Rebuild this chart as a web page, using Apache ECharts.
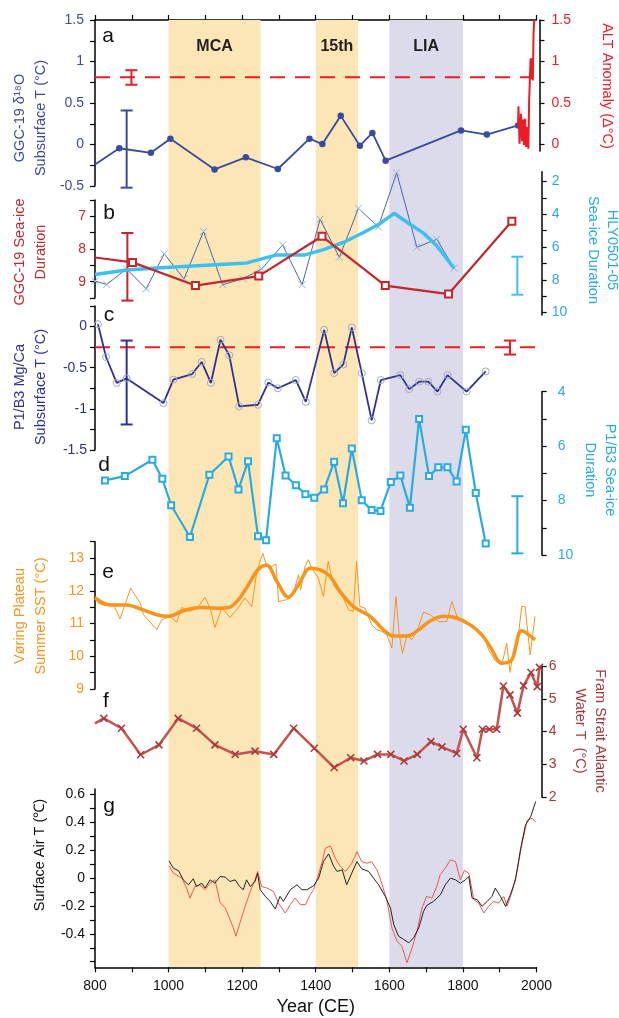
<!DOCTYPE html>
<html>
<head>
<meta charset="utf-8">
<script src="https://cdn.jsdelivr.net/npm/echarts@6/dist/echarts.min.js"></script>
<style>
  html, body { margin: 0; padding: 0; background: #fff; }
  #chart { width: 619px; height: 1018px; }
</style>
</head>
<body>
<div id="chart"></div>
<script>
(function () {
    const FONT = "'Liberation Sans', Arial, sans-serif";

    // shaded periods
    const periods = [['MCA', 1000, 1250, '#fce6b6'], ['15th', 1400, 1515, '#fce6b6'], ['LIA', 1600, 1800, '#dcdbec']];

    // x axis
    const xTicks = [800, 900, 1000, 1100, 1200, 1300, 1400, 1500, 1600, 1700, 1800, 1900, 2000];
    const xLabels = [800, 1000, 1200, 1400, 1600, 1800, 2000];

    // a: GGC-19 d18O subsurface T, ALT anomaly
    const aYears = [800, 866, 952, 1005, 1125, 1210, 1297, 1383, 1418, 1468, 1520, 1554, 1590, 1795, 1865, 1950];
    const aVals = [-0.24, -0.045, -0.10, 0.07, -0.30, -0.155, -0.295, 0.07, 0.005, 0.345, -0.015, 0.14, -0.195, 0.17, 0.12, 0.23];
    const altYears = [1950, 1951, 1954, 1958, 1961, 1964, 1966, 1969, 1972, 1975, 1978, 1980, 1982, 1984, 1987, 1988, 1990, 1992, 1994, 1996];
    const altVals = [0.23, 0.46, 0.01, 0.37, 0.04, 0.30, -0.01, 0.31, -0.03, 0.21, -0.05, 0.53, 0.77, 1.04, 0.79, 1.04, 0.77, 1.34, 1.5, 1.5];
    const aRefLevel = 0.81;
    const aRefSpan = [800, 1985];
    const aErrBlue = [886, -0.52, 0.41];
    const aErrRed = [899, 0.72, 0.895];
    const aLeftTicks = [-0.5, -0.25, 0, 0.25, 0.5, 0.75, 1, 1.25, 1.5];
    const aLeftLabels = [-0.5, 0, 0.5, 1, 1.5];
    const aRightTicks = [0, 0.25, 0.5, 0.75, 1, 1.25, 1.5];
    const aRightLabels = [0, 0.5, 1, 1.5];

    // b: GGC-19 sea-ice duration, HLY0501-05 sea-ice duration
    const bYears = [800, 902, 1073, 1245, 1417, 1589, 1761, 1933];
    const bVals = [8.26, 8.41, 9.12, 8.83, 7.61, 9.12, 9.38, 7.15];
    const hlyYears = [800, 832, 886, 939, 988, 1042, 1095, 1147, 1202, 1253, 1310, 1363, 1412, 1464, 1516, 1570, 1620, 1675, 1729, 1776];
    const hlyVals = [8.08, 8.28, 7.33, 8.55, 6.42, 7.94, 5.05, 8.3, 7.94, 7.33, 5.88, 8.3, 4.3, 6.63, 3.64, 4.77, 1.47, 6.02, 5.52, 7.29];
    const hlySmYears = [800, 886, 1004, 1213, 1258, 1294, 1371, 1421, 1475, 1530, 1575, 1613, 1656, 1693, 1729, 1776];
    const hlySmVals = [7.68, 7.4, 7.23, 6.97, 6.69, 6.48, 6.48, 6.16, 5.72, 5.11, 4.56, 3.94, 4.61, 5.15, 5.92, 7.29];
    const bErrRed = [888, 7.51, 9.58];
    const bErrBlue = [1948, 6.59, 8.91];
    const bLeftTicks = [6.5, 7, 7.5, 8, 8.5, 9, 9.5];
    const bLeftLabels = [7, 8, 9];
    const bRightTicks = [2, 3, 4, 5, 6, 7, 8, 9, 10];
    const bRightLabels = [2, 4, 6, 8, 10];

    // c: P1/B3 Mg/Ca subsurface T
    const cYears = [808, 830, 859, 886, 986, 1013, 1064, 1090, 1115, 1141, 1165, 1192, 1243, 1271, 1297, 1346, 1373, 1423, 1450, 1475, 1498, 1525, 1552, 1577, 1630, 1654, 1681, 1706, 1731, 1758, 1810, 1862];
    const cVals = [0.03, -0.37, -0.685, -0.63, -0.93, -0.645, -0.577, -0.43, -0.685, -0.16, -0.35, -0.97, -0.95, -0.68, -0.75, -0.65, -0.915, -0.04, -0.565, -0.46, -0.01, -0.565, -1.14, -0.65, -0.59, -0.76, -0.67, -0.67, -0.79, -0.59, -0.79, -0.545];
    const cRefLevel = -0.25;
    const cRefSpan = [800, 2014];
    const cErrBlue = [886, -1.19, -0.17];
    const cErrRed = [1928, -0.34, -0.17];
    const cTicks = [-1.5, -1.25, -1, -0.75, -0.5, -0.25, 0, 0.25];
    const cLabels = [-1.5, -1, -0.5, 0];

    // d: P1/B3 sea-ice duration
    const dYears = [827, 881, 956, 983, 1007, 1058, 1111, 1163, 1190, 1216, 1243, 1265, 1294, 1318, 1346, 1372, 1396, 1423, 1450, 1474, 1498, 1525, 1552, 1576, 1604, 1630, 1656, 1681, 1708, 1733, 1758, 1783, 1808, 1835, 1862];
    const dVals = [7.26, 7.10, 6.5, 7.2, 8.17, 9.34, 7.05, 6.38, 7.59, 6.56, 9.31, 9.46, 5.71, 7.08, 7.44, 7.77, 7.9, 7.59, 6.57, 8.1, 6.09, 7.99, 8.35, 8.38, 7.32, 7.08, 8.26, 5.0, 7.1, 6.78, 6.78, 7.3, 5.4, 7.72, 9.58];
    const dErr = [1948, 7.84, 9.94];
    const dTicks = [4, 5, 6, 7, 8, 9, 10];
    const dLabels = [4, 6, 8, 10];

    // e: Voring Plateau summer SST (raw and smoothed)
    const eRawYears = [800, 809, 827, 850, 868, 897, 923, 932, 968, 981, 1004, 1022, 1036, 1058, 1081, 1099, 1113, 1126, 1145, 1167, 1185, 1208, 1226, 1240, 1256, 1267, 1281, 1292, 1299, 1310, 1321, 1330, 1341, 1353, 1359, 1371, 1380, 1389, 1407, 1421, 1434, 1448, 1475, 1489, 1502, 1511, 1520, 1534, 1552, 1566, 1580, 1593, 1607, 1618, 1627, 1636, 1648, 1661, 1675, 1693, 1711, 1734, 1756, 1770, 1784, 1806, 1829, 1856, 1870, 1888, 1906, 1919, 1928, 1937, 1951, 1960, 1969, 1983, 1996];
    const eRawVals = [11.83, 11.62, 11.55, 11.59, 11.14, 12.08, 11.62, 11.27, 10.81, 11.11, 11.22, 11.04, 11.49, 11.37, 11.52, 11.8, 11.47, 10.88, 11.47, 11.19, 11.42, 11.78, 11.52, 12.59, 13.15, 12.75, 12.75, 12.82, 11.67, 11.7, 11.73, 11.78, 11.98, 12.49, 12.03, 12.75, 12.95, 12.69, 12.39, 11.83, 12.9, 12.18, 11.78, 11.42, 11.37, 12.9, 11.52, 11.47, 10.96, 10.81, 10.76, 10.66, 10.25, 11.83, 10.66, 10.09, 10.66, 10.5, 10.76, 11.35, 11.27, 11.06, 11.06, 11.67, 11.22, 11.04, 10.94, 10.66, 10.2, 9.86, 9.74, 10.4, 9.51, 10.15, 10.66, 11.52, 11.52, 10.04, 11.22];
    const eSmYears = [800, 841, 886, 923, 968, 1000, 1040, 1086, 1131, 1163, 1190, 1217, 1244, 1267, 1294, 1326, 1353, 1385, 1412, 1439, 1466, 1502, 1548, 1584, 1611, 1648, 1680, 1711, 1747, 1783, 1820, 1851, 1874, 1906, 1933, 1960, 1996];
    const eSmVals = [11.78, 11.57, 11.57, 11.45, 11.27, 11.22, 11.39, 11.49, 11.47, 11.49, 11.73, 12.18, 12.66, 12.78, 12.29, 11.8, 12.18, 12.69, 12.64, 12.44, 11.98, 11.52, 11.22, 10.81, 10.62, 10.62, 10.81, 11.08, 11.22, 11.17, 10.96, 10.66, 10.3, 9.79, 9.89, 10.78, 10.5];
    const eTicks = [9, 9.5, 10, 10.5, 11, 11.5, 12, 12.5, 13, 13.5];
    const eLabels = [9, 10, 11, 12, 13];

    // f: Fram Strait Atlantic Water T
    const fYears = [800, 824, 872, 924, 974, 1026, 1076, 1126, 1181, 1235, 1286, 1340, 1396, 1450, 1495, 1531, 1568, 1604, 1640, 1676, 1713, 1743, 1783, 1801, 1838, 1853, 1872, 1892, 1910, 1928, 1948, 1965, 1985, 2002, 2008];
    const fVals = [4.25, 4.4, 4.1, 3.29, 3.59, 4.4, 4.1, 3.59, 3.3, 3.4, 3.3, 4.1, 3.49, 2.9, 3.2, 3.1, 3.3, 3.3, 3.1, 3.3, 3.69, 3.53, 3.33, 4.07, 3.2, 4.07, 4.07, 4.07, 5.39, 5.12, 4.56, 5.4, 5.8, 5.37, 5.96];
    const fTicks = [2, 3, 4, 5, 6];
    const fLabels = [2, 3, 4, 5, 6];

    // g: surface air temperature (two reconstructions)
    const gBlackYears = [1001, 1013, 1027, 1040, 1054, 1067, 1076, 1090, 1099, 1113, 1126, 1140, 1154, 1167, 1181, 1193, 1203, 1212, 1222, 1235, 1242, 1249, 1263, 1276, 1290, 1303, 1312, 1331, 1349, 1363, 1376, 1394, 1408, 1421, 1435, 1449, 1458, 1472, 1484, 1498, 1512, 1525, 1544, 1557, 1571, 1589, 1603, 1612, 1625, 1639, 1653, 1666, 1680, 1693, 1702, 1720, 1739, 1752, 1766, 1780, 1793, 1807, 1816, 1825, 1839, 1852, 1866, 1879, 1888, 1902, 1916, 1929, 1943, 1957, 1970, 1984, 1998];
    const gBlackVals = [0.124, 0.071, 0.054, -0.012, -0.048, -0.005, -0.06, -0.036, -0.071, -0.012, -0.036, 0.012, 0.007, -0.024, -0.012, -0.06, -0.083, -0.012, -0.06, -0.024, 0.036, -0.083, -0.131, -0.167, -0.221, -0.131, -0.167, -0.083, -0.048, -0.083, -0.083, -0.055, 0.0, 0.119, 0.174, 0.083, 0.048, 0.06, -0.048, 0.036, 0.119, 0.067, 0.048, 0.0, -0.048, -0.131, -0.214, -0.333, -0.417, -0.44, -0.464, -0.429, -0.357, -0.238, -0.195, -0.167, -0.119, -0.048, 0.0, -0.012, -0.036, -0.012, 0.012, -0.143, -0.155, -0.202, -0.167, -0.131, -0.071, -0.131, -0.202, -0.119, -0.012, 0.214, 0.381, 0.44, 0.55];
    const gRedYears = [1001, 1013, 1036, 1049, 1058, 1072, 1085, 1099, 1113, 1126, 1140, 1154, 1167, 1176, 1183, 1194, 1208, 1222, 1235, 1242, 1253, 1267, 1285, 1299, 1317, 1331, 1344, 1358, 1372, 1385, 1394, 1403, 1417, 1426, 1440, 1453, 1467, 1481, 1498, 1512, 1525, 1539, 1552, 1566, 1575, 1593, 1607, 1621, 1634, 1648, 1662, 1675, 1689, 1701, 1716, 1729, 1738, 1752, 1766, 1780, 1793, 1804, 1816, 1830, 1843, 1857, 1870, 1884, 1897, 1911, 1920, 1934, 1947, 1961, 1975, 1988, 1998];
    const gRedVals = [0.088, 0.036, 0.0, -0.071, -0.143, -0.06, -0.048, -0.083, -0.036, -0.012, -0.174, -0.214, -0.298, -0.357, -0.417, -0.321, -0.202, -0.095, -0.012, 0.048, -0.06, -0.071, -0.095, -0.179, -0.25, -0.19, -0.143, -0.19, -0.19, -0.119, -0.083, -0.012, 0.112, 0.214, 0.231, 0.143, 0.083, 0.048, 0.107, 0.19, 0.119, 0.107, 0.119, 0.06, 0.0, -0.155, -0.357, -0.452, -0.488, -0.607, -0.5, -0.381, -0.214, -0.131, -0.143, -0.06, 0.024, 0.071, 0.131, 0.119, -0.012, 0.055, 0.036, -0.155, -0.179, -0.25, -0.202, -0.167, -0.179, -0.131, -0.202, -0.095, 0.048, 0.25, 0.417, 0.429, 0.405];
    const gTicks = [-0.6, -0.5, -0.4, -0.3, -0.2, -0.1, 0, 0.1, 0.2, 0.3, 0.4, 0.5, 0.6];
    const gLabels = [-0.4, -0.2, 0, 0.2, 0.4, 0.6];

    const col = {
        aBlue: '#3a4a9f', red: '#ed1c24', bRed: '#c1272d', hly: '#4767b2', hlyX: '#9aaed8',
        sky: '#3ec0ee', cBlue: '#2e3192', cCirc: '#a3a7cf', dBlue: '#29abe2',
        orange: '#f7941d', fLine: '#c4524e', fMark: '#a83c3a', fText: '#a23a3a',
        gBlack: '#222222', gRed: '#f0584f'
    };

    let chart = echarts.init(document.getElementById('chart'));

    // px per year 0.3679, left edge at x = 95
    const L = 95, PPY = 0.3679;
    const W2000 = (2000 - 800) * PPY, W2014 = (2014 - 800) * PPY;

    function pts(xs, ys, noFirst) {
        return xs.map(function (x, i) {
            if (noFirst && i === 0) return { value: [x, ys[i]], symbol: 'none' };
            return [x, ys[i]];
        });
    }

    function yAx(grid, pos, min, max, ticks, labels, color, opt) {
        opt = opt || {};
        return {
            type: 'value', gridIndex: grid, position: pos, min: min, max: max,
            inverse: !!opt.inverse, offset: opt.offset || 0,
            splitLine: { show: false },
            axisLine: { show: true, onZero: false, lineStyle: { color: '#000', width: 1.5 } },
            axisTick: { show: true, length: 5, customValues: ticks, lineStyle: { color: '#000', width: 1.2 } },
            axisLabel: { show: true, customValues: labels, color: color, fontSize: 14, fontFamily: FONT, margin: opt.margin || 10 }
        };
    }

    function xHidden(grid, max) {
        return { type: 'value', gridIndex: grid, min: 800, max: max, show: false };
    }

    function errBar(params, api) {
        let p1 = api.coord([api.value(0), api.value(1)]);
        let p2 = api.coord([api.value(0), api.value(2)]);
        let w = 6;
        let st = { stroke: api.visual('color'), lineWidth: 2 };
        return {
            type: 'group', children: [
                { type: 'line', shape: { x1: p1[0], y1: p1[1], x2: p2[0], y2: p2[1] }, style: st },
                { type: 'line', shape: { x1: p1[0] - w, y1: p1[1], x2: p1[0] + w, y2: p1[1] }, style: st },
                { type: 'line', shape: { x1: p2[0] - w, y1: p2[1], x2: p2[0] + w, y2: p2[1] }, style: st }
            ]
        };
    }

    function errSeries(ax, data, color) {
        return {
            type: 'custom', xAxisIndex: ax, yAxisIndex: ax, renderItem: errBar,
            itemStyle: { color: color }, data: [data], z: 4, silent: true
        };
    }

    const xMark = 'path://M0,0L10,10M10,0L0,10';

    // grids: 0 bands, 1 a, 2 a-right, 3 b-left, 4 b-right, 5 c, 6 d, 7 e, 8 f, 9 g
    let grids = [
        { left: L, top: 20, width: W2000, height: 947 },
        { left: L, top: 20, width: W2000, height: 166 },
        { left: L, top: 20, width: W2000, height: 131 },
        { left: L, top: 200, width: W2014, height: 98 },
        { left: L, top: 171.7, width: W2014, height: 143.3 },
        { left: L, top: 306, width: W2014, height: 144 },
        { left: L, top: 391.7, width: W2014, height: 163.3 },
        { left: L, top: 541.7, width: W2014, height: 147.3 },
        { left: L, top: 666, width: W2014, height: 131 },
        { left: L, top: 789, width: W2000, height: 178.3 }
    ];

    let xAxes = [
        xHidden(0, 2000),
        {
            type: 'value', gridIndex: 1, position: 'top', min: 800, max: 2000,
            splitLine: { show: false },
            axisLine: { show: true, onZero: false, lineStyle: { color: '#000', width: 1.5 } },
            axisTick: { show: true, length: 5, customValues: xTicks, lineStyle: { color: '#000', width: 1.2 } },
            axisLabel: { show: false }
        },
        xHidden(2, 2000),
        xHidden(3, 2014),
        xHidden(4, 2014),
        xHidden(5, 2014),
        xHidden(6, 2014),
        xHidden(7, 2014),
        xHidden(8, 2014),
        {
            type: 'value', gridIndex: 9, position: 'bottom', min: 800, max: 2000,
            splitLine: { show: false },
            axisLine: { show: true, onZero: false, lineStyle: { color: '#000', width: 1.5 } },
            axisTick: { show: true, length: 5, customValues: xTicks, lineStyle: { color: '#000', width: 1.2 } },
            axisLabel: {
                customValues: xLabels, color: '#111', fontSize: 14, fontFamily: FONT, margin: 12,
                formatter: function (v) { return String(v); }
            },
            name: 'Year (CE)', nameLocation: 'middle', nameGap: 31,
            nameTextStyle: { fontSize: 18, fontFamily: FONT, color: '#111' }
        }
    ];

    let yAxes = [
        { type: 'value', gridIndex: 0, min: 0, max: 1, show: false },
        yAx(1, 'left', -0.5, 1.5, aLeftTicks, aLeftLabels, col.aBlue, { margin: 11 }),
        yAx(2, 'right', -0.08, 1.5, aRightTicks, aRightLabels, col.red, { margin: 12, offset: 3 }),
        yAx(3, 'left', 6.5, 9.5, bLeftTicks, bLeftLabels, col.bRed, { inverse: true, margin: 9 }),
        yAx(4, 'right', 1.4, 10.15, bRightTicks, bRightLabels, col.dBlue, { inverse: true, margin: 10 }),
        yAx(5, 'left', -1.5, 0.25, cTicks, cLabels, col.cBlue, { margin: 8 }),
        yAx(6, 'right', 4, 10, dTicks, dLabels, col.dBlue, { inverse: true, margin: 16 }),
        yAx(7, 'left', 9, 13.5, eTicks, eLabels, col.orange, { margin: 11 }),
        yAx(8, 'right', 2, 6, fTicks, fLabels, col.fText, { margin: 7 }),
        yAx(9, 'left', -0.64, 0.64, gTicks, gLabels, '#111', { margin: 10 })
    ];

    let series = [
        {
            type: 'line', xAxisIndex: 0, yAxisIndex: 0, data: [], silent: true,
            markArea: {
                silent: true,
                label: { show: true, position: 'insideTop', distance: 19, fontSize: 16, fontWeight: 'bold', fontFamily: FONT, color: '#231f20' },
                data: periods.map(function (p) {
                    return [{ name: p[0], xAxis: p[1], itemStyle: { color: p[3] } }, { xAxis: p[2] }];
                })
            }
        },
        // a
        {
            type: 'line', xAxisIndex: 1, yAxisIndex: 1, data: [[aRefSpan[0], aRefLevel], [aRefSpan[1], aRefLevel]],
            symbol: 'none', lineStyle: { color: col.red, width: 2, type: [15, 10] }, z: 3
        },
        {
            type: 'line', xAxisIndex: 1, yAxisIndex: 1, data: pts(aYears, aVals, true),
            symbol: 'circle', symbolSize: 6.5, itemStyle: { color: col.aBlue },
            lineStyle: { color: col.aBlue, width: 1.8 }, z: 5
        },
        {
            type: 'line', xAxisIndex: 1, yAxisIndex: 1, data: pts(altYears, altVals),
            symbol: 'none', lineStyle: { color: col.red, width: 2 }, z: 6
        },
        errSeries(1, aErrBlue, col.aBlue),
        errSeries(1, aErrRed, col.red),
        // b
        {
            type: 'line', xAxisIndex: 4, yAxisIndex: 4, data: pts(hlyYears, hlyVals),
            symbol: xMark, symbolSize: 7,
            itemStyle: { color: 'transparent', borderColor: col.hlyX, borderWidth: 1 },
            lineStyle: { color: col.hly, width: 1 }, z: 3
        },
        {
            type: 'line', xAxisIndex: 4, yAxisIndex: 4, data: pts(hlySmYears, hlySmVals),
            symbol: 'none', lineStyle: { color: col.sky, width: 3.5 }, z: 4
        },
        {
            type: 'line', xAxisIndex: 3, yAxisIndex: 3, data: pts(bYears, bVals, true),
            symbol: 'emptyRect', symbolSize: 7, itemStyle: { color: col.bRed, borderWidth: 1 },
            lineStyle: { color: col.bRed, width: 2.2 }, z: 5
        },
        errSeries(3, bErrRed, col.bRed),
        errSeries(4, bErrBlue, col.sky),
        // c
        {
            type: 'line', xAxisIndex: 5, yAxisIndex: 5, data: [[cRefSpan[0], cRefLevel], [cRefSpan[1], cRefLevel]],
            symbol: 'none', lineStyle: { color: col.red, width: 2, type: [15, 10] }, z: 3
        },
        {
            type: 'line', xAxisIndex: 5, yAxisIndex: 5, data: pts(cYears, cVals),
            symbol: 'circle', symbolSize: 7,
            itemStyle: { color: 'transparent', borderColor: col.cCirc, borderWidth: 1 },
            lineStyle: { color: col.cBlue, width: 1.8 }, z: 5
        },
        errSeries(5, cErrBlue, col.cBlue),
        errSeries(5, cErrRed, col.red),
        // d
        {
            type: 'line', xAxisIndex: 6, yAxisIndex: 6, data: pts(dYears, dVals),
            symbol: 'emptyRect', symbolSize: 6, itemStyle: { color: col.dBlue, borderWidth: 1 },
            lineStyle: { color: col.dBlue, width: 2.2 }, z: 5
        },
        errSeries(6, dErr, col.dBlue),
        // e
        {
            type: 'line', xAxisIndex: 7, yAxisIndex: 7, data: pts(eRawYears, eRawVals),
            symbol: 'none', lineStyle: { color: col.orange, width: 1 }, z: 4
        },
        {
            type: 'line', xAxisIndex: 7, yAxisIndex: 7, data: pts(eSmYears, eSmVals), smooth: 0.35,
            symbol: 'none', lineStyle: { color: col.orange, width: 3.5 }, z: 5
        },
        // f
        {
            type: 'line', xAxisIndex: 8, yAxisIndex: 8, data: pts(fYears, fVals, true),
            symbol: xMark, symbolSize: 7,
            itemStyle: { color: 'transparent', borderColor: col.fMark, borderWidth: 1.6 },
            lineStyle: { color: col.fLine, width: 2.5 }, z: 5
        },
        // g
        {
            type: 'line', xAxisIndex: 9, yAxisIndex: 9, data: pts(gRedYears, gRedVals),
            symbol: 'none', lineStyle: { color: col.gRed, width: 1 }, z: 4
        },
        {
            type: 'line', xAxisIndex: 9, yAxisIndex: 9, data: pts(gBlackYears, gBlackVals),
            symbol: 'none', lineStyle: { color: col.gBlack, width: 1 }, z: 5
        }
    ];

    function title(x, y, text, color, rot, lh) {
        return {
            type: 'text', x: x, y: y, rotation: rot, z: 10,
            style: {
                text: text, fill: color, font: '14.5px ' + FONT, lineHeight: lh || 21,
                textAlign: 'center', textVerticalAlign: 'middle'
            }
        };
    }
    function letter(x, y, t) {
        return {
            type: 'text', x: x, y: y, z: 10,
            style: { text: t, fill: '#111', font: '21px ' + FONT, textAlign: 'center', textVerticalAlign: 'middle' }
        };
    }
    const up = Math.PI / 2, down = -Math.PI / 2;

    let graphics = [
        title(30.8, 118, 'GGC-19 δ¹⁸O\nSubsurface T (°C)', col.aBlue, up),
        title(606.5, 86, 'ALT Anomaly (Δ°C)', col.red, down),
        title(30.8, 252, 'GGC-19 Sea-ice\nDuration', col.bRed, up),
        title(602, 250, 'HLY0501-05\nSea-ice Duration', col.dBlue, down, 19),
        title(30.8, 387, 'P1/B3 Mg/Ca\nSubsurface T (°C)', col.cBlue, up),
        title(600, 470, 'P1/B3 Sea-ice\nDuration', col.dBlue, down, 20),
        title(30.8, 616, 'Vøring Plateau\nSummer SST (°C)', col.orange, up),
        title(590, 731, 'Fram Strait Atlantic\nWater T  (°C)', col.fText, down, 20),
        title(39.5, 855, 'Surface Air T (℃)', '#111', up),
        letter(108, 36, 'a'),
        letter(109, 213, 'b'),
        letter(109, 315, 'c'),
        letter(104, 465, 'd'),
        letter(108, 572, 'e'),
        letter(106, 701, 'f'),
        letter(109, 806, 'g')
    ];

    let option = {
        backgroundColor: '#fff',
        animation: false,
        grid: grids,
        xAxis: xAxes,
        yAxis: yAxes,
        series: series,
        graphic: graphics
    };

    chart.setOption(option);
})();
</script>
</body>
</html>
